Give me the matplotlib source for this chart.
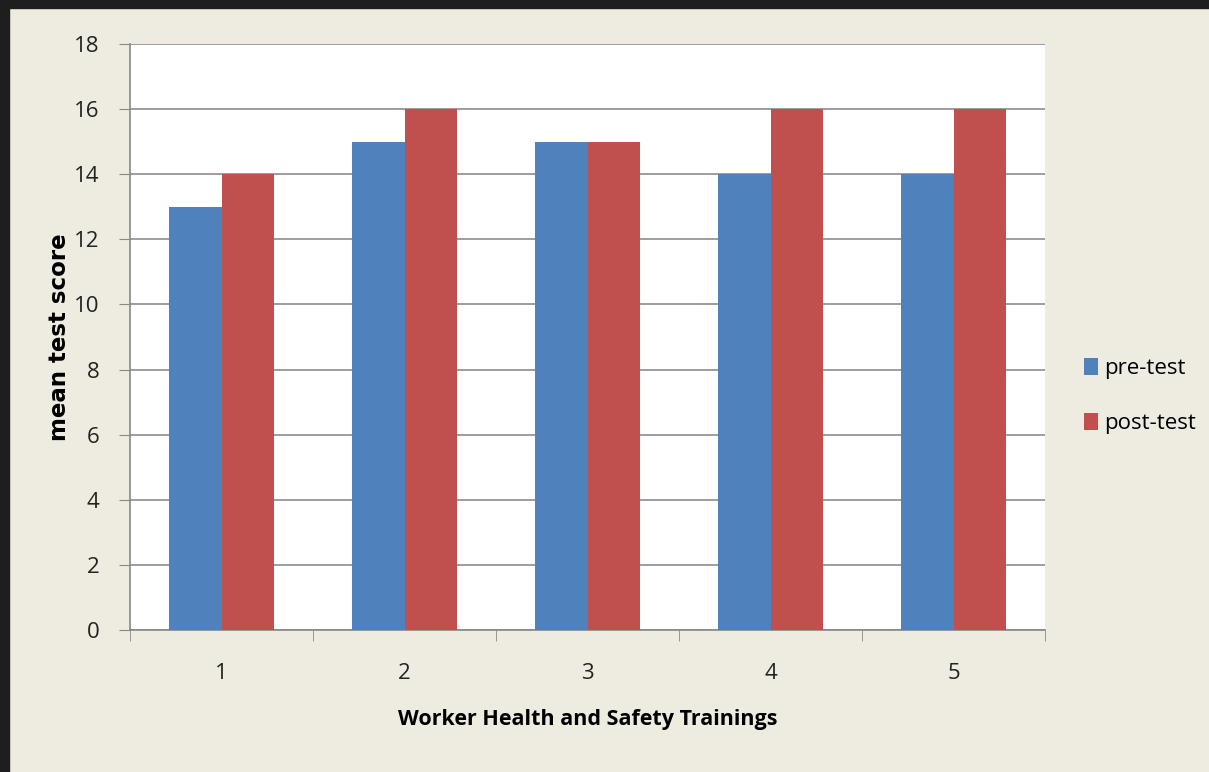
import numpy as np
import matplotlib.pyplot as plt
from matplotlib.patches import Rectangle

### DATA
trainings = ['1', '2', '3', '4', '5']
pre_test = [13, 15, 15, 14, 14]
post_test = [14, 16, 15, 16, 16]
yticks = [0, 2, 4, 6, 8, 10, 12, 14, 16, 18]

### STYLE
bg = '#EEEBE0'
blue = '#4F81BD'
red = '#C0504D'
font = 'Open Sans'

fig = plt.figure(figsize=(12.09, 7.72), dpi=100, facecolor=bg)

### dark frame at top and left
fig.patches.append(Rectangle((0, 1 - 8/772), 1, 8/772, transform=fig.transFigure,
                             color='#1E1E1E', zorder=10))
fig.patches.append(Rectangle((0, 0), 9/1209, 1, transform=fig.transFigure,
                             color='#1E1E1E', zorder=10))

ax = fig.add_axes([130/1209, 142/772, 915/1209, 586/772])
ax.set_facecolor('white')

x = np.arange(len(trainings))
w = 0.285
ax.bar(x - w/2, pre_test, w, color=blue, label='pre-test', zorder=3)
ax.bar(x + w/2, post_test, w, color=red, label='post-test', zorder=3)

ax.set_xlim(-0.5, len(trainings) - 0.5)
ax.set_ylim(0, 18)
ax.set_yticks(yticks)
ax.set_yticklabels([str(v) for v in yticks], fontsize=16, family=font, color='#222222')
ax.set_xticks(x)
ax.set_xticklabels(trainings, fontsize=16, family=font, color='#222222')
ax.tick_params(axis='x', length=0, pad=24)
ax.tick_params(axis='y', length=8, color='#888888', pad=14)

### category boundary ticks below the axis
ax.set_xticks(np.arange(-0.5, len(trainings)), minor=True)
ax.tick_params(axis='x', which='minor', length=8, color='#888888', direction='out')

ax.yaxis.grid(True, color='#8C8C8C', linewidth=1.2, zorder=0)
ax.set_axisbelow(True)
for s in ['top', 'right']:
    ax.spines[s].set_visible(False)
for s in ['left', 'bottom']:
    ax.spines[s].set_color('#888888')
    ax.spines[s].set_linewidth(1.2)

ax.set_xlabel('Worker Health and Safety Trainings', fontsize=15.5, fontweight='bold',
              family=font, labelpad=18)
ax.set_ylabel('mean test score', fontsize=16.5, fontweight='bold',
              family='DejaVu Sans', va='center')
ax.yaxis.set_label_coords(-70/915, 0.5)

leg = fig.legend(loc='center left', bbox_to_anchor=(1064/1209, 376/772), frameon=False,
                 prop={'family': font, 'size': 16}, handlelength=0.65, handleheight=0.8,
                 handletextpad=0.25, labelspacing=1.5)

fig.savefig('out.png', dpi=100, facecolor=bg)
